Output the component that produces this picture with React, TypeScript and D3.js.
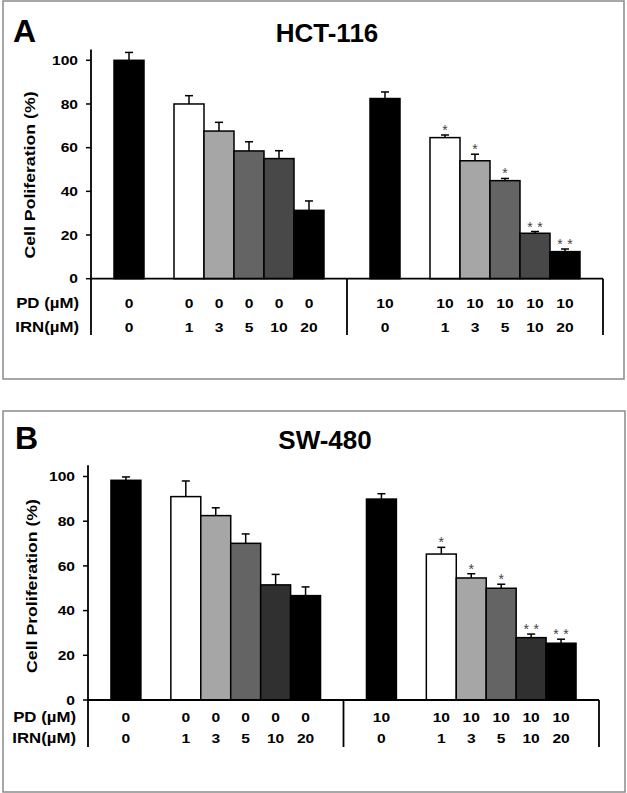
import React from "react";
import * as d3 from "d3";

// ---- data ----
const pdLabels = ["0", "0", "0", "0", "0", "0", "10", "10", "10", "10", "10", "10"];
const irnLabels = ["0", "1", "3", "5", "10", "20", "0", "1", "3", "5", "10", "20"];
const slotKeys = ["0", "gap", "1", "3", "5", "10", "20"];
const pdGroups = ["0", "10"];
const yTicks = [0, 20, 40, 60, 80, 100];

const hctValues = [100, 80, 67.6, 58.5, 55, 31.3, 82.5, 64.6, 54, 44.9, 20.8, 12.4];
const hctErrors = [3.6, 3.8, 4, 4.2, 3.6, 4.3, 3, 1.2, 3, 1, 0.8, 1.2];
const hctSig = ["", "", "", "", "", "", "", "*", "*", "*", "**", "**"];
const hctFills = ["#000000", "#ffffff", "#a6a6a6", "#646464", "#484848", "#000000",
  "#000000", "#ffffff", "#a6a6a6", "#646464", "#484848", "#000000"];

const swValues = [98.3, 91, 82.5, 70.1, 51.5, 46.7, 89.9, 65.3, 54.6, 50, 27.9, 25.4];
const swErrors = [1.5, 7, 3.5, 4.2, 4.7, 3.9, 2.4, 3, 1.9, 1.8, 1.6, 1.8];
const swSig = ["", "", "", "", "", "", "", "*", "*", "*", "**", "**"];
const swFills = ["#000000", "#ffffff", "#a6a6a6", "#646464", "#303030", "#000000",
  "#000000", "#ffffff", "#a6a6a6", "#646464", "#303030", "#000000"];

const FONT = "'Liberation Sans', Arial, sans-serif";

function SText({ x, y, sx = 1.2, fs, anchor = "middle", rotate = 0, fill = "#000", weight = "bold", children, dy }: any) {
  return (
    <text
      transform={`translate(${x},${y}) rotate(${rotate}) scale(${sx},1)`}
      textAnchor={anchor}
      fontSize={fs}
      fontFamily={FONT}
      fontWeight={weight}
      fill={fill}
      dy={dy}
    >
      {children}
    </text>
  );
}

function Panel({ cfg, values, errors, sig, fills }: any) {
  const y = d3.scaleLinear().domain([0, 100]).range([cfg.zeroY, cfg.y100]);
  const gx = d3.scaleBand().domain(pdGroups).range([cfg.axisX, cfg.rightX]).padding(0);
  const ix = d3.scaleBand().domain(slotKeys).range([0, gx.bandwidth()]).paddingInner(0).paddingOuter(0.767);
  const bw = ix.bandwidth();
  const yTop = y(105);
  return (
    <g>
      <rect x={cfg.box[0]} y={cfg.box[1]} width={cfg.box[2]} height={cfg.box[3]} fill="#fff" stroke="#8a8a8a" strokeWidth={1.5} />
      <SText x={cfg.letterX} y={cfg.titleY} fs={32} sx={1} anchor="start">{cfg.letter}</SText>
      <SText x={cfg.titleX} y={cfg.titleY} fs={26} sx={1}>{cfg.title}</SText>
      <SText x={cfg.ylabX} y={cfg.ylabY} fs={15} sx={1.18} rotate={-90} dy="0.35em">{cfg.ylab}</SText>
      {/* bars */}
      {values.map((v: number, i: number) => {
        const x0 = (gx(pdLabels[i]) as number) + (ix(irnLabels[i]) as number);
        const cx = x0 + bw / 2;
        const ey = y(v + errors[i]);
        const chars = sig[i].split("");
        return (
          <g key={i}>
            <line x1={cx} x2={cx} y1={y(v)} y2={ey} stroke="#000" strokeWidth={1.5} />
            <line x1={cx - 4} x2={cx + 4} y1={ey} y2={ey} stroke="#000" strokeWidth={1.5} />
            <rect x={x0} y={y(v)} width={bw} height={cfg.zeroY - y(v)} fill={fills[i]} stroke="#000" strokeWidth={1.5} />
            {chars.map((c: string, k: number) => (
              <SText key={k} x={cx + (k - (chars.length - 1) / 2) * 10} y={ey} fs={14} sx={1} weight="normal" fill="#444">{c}</SText>
            ))}
          </g>
        );
      })}
      {/* y axis */}
      <line x1={cfg.axisX} x2={cfg.axisX} y1={yTop} y2={cfg.divBottom} stroke="#000" strokeWidth={1.8} />
      {yTicks.map((t) => (
        <g key={t}>
          <line x1={cfg.axisX - 5} x2={cfg.axisX} y1={y(t)} y2={y(t)} stroke="#000" strokeWidth={1.5} />
          <SText x={cfg.axisX - 13} y={y(t)} fs={13} anchor="end" dy="0.36em">{t}</SText>
        </g>
      ))}
      {/* baseline and table dividers */}
      <line x1={cfg.axisX} x2={cfg.rightX} y1={cfg.zeroY} y2={cfg.zeroY} stroke="#000" strokeWidth={1.8} />
      {pdGroups.map((g) => (
        <line key={g} x1={(gx(g) as number) + gx.bandwidth()} x2={(gx(g) as number) + gx.bandwidth()} y1={cfg.zeroY} y2={cfg.divBottom} stroke="#000" strokeWidth={1.8} />
      ))}
      {/* table */}
      <SText x={cfg.tableLabelX} y={cfg.pdY} fs={14} anchor="end" dy="0.36em">PD (µM)</SText>
      <SText x={cfg.tableLabelX} y={cfg.irnY} fs={14} anchor="end" dy="0.36em">IRN(µM)</SText>
      {pdLabels.map((p, i) => {
        const cx = (gx(p) as number) + (ix(irnLabels[i]) as number) + bw / 2;
        return (
          <g key={i}>
            <SText x={cx} y={cfg.pdY} fs={13} dy="0.36em">{p}</SText>
            <SText x={cx} y={cfg.irnY} fs={13} dy="0.36em">{irnLabels[i]}</SText>
          </g>
        );
      })}
    </g>
  );
}

const cfgA = {
  box: [3, 1, 621, 378], letter: "A", letterX: 13, title: "HCT-116", titleX: 327, titleY: 42,
  ylab: "Cell Poliferation (%)", ylabX: 30, ylabY: 175,
  axisX: 91, rightX: 603, zeroY: 278.7, y100: 60.3, divBottom: 335,
  pdY: 303, irnY: 327, tableLabelX: 79,
};
const cfgB = {
  box: [3, 411, 622, 381], letter: "B", letterX: 15, title: "SW-480", titleX: 325, titleY: 449,
  ylab: "Cell Proliferation (%)", ylabX: 32, ylabY: 586,
  axisX: 88, rightX: 599, zeroY: 700, y100: 476.5, divBottom: 747,
  pdY: 717, irnY: 738, tableLabelX: 76,
};

export default function App() {
  return (
    <svg width={627} height={793} style={{ position: "absolute", left: 0, top: 0, background: "#fff" }}>
      <rect width={627} height={793} fill="#fff" />
      <Panel cfg={cfgA} values={hctValues} errors={hctErrors} sig={hctSig} fills={hctFills} />
      <Panel cfg={cfgB} values={swValues} errors={swErrors} sig={swSig} fills={swFills} />
    </svg>
  );
}
